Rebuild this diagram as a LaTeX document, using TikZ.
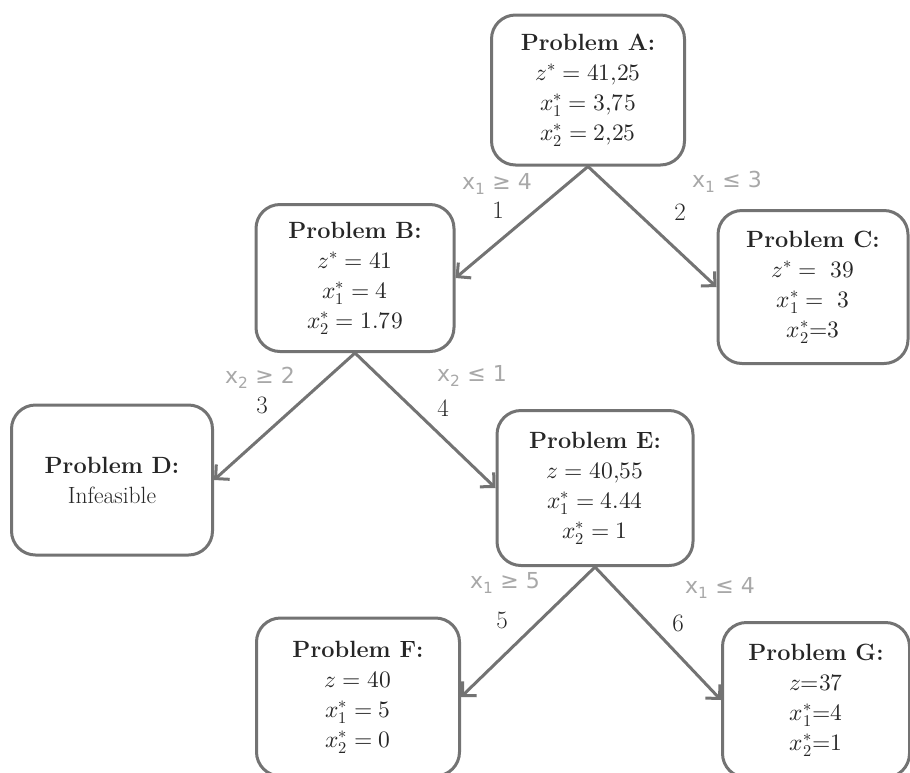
\documentclass[tikz,border=0pt]{standalone}
\usepackage{fontspec}
\usepackage{unicode-math}
\setmathfont{Latin Modern Math}
\newfontfamily\handfont{DejaVu Sans}
\usetikzlibrary{arrows.meta}
\definecolor{edgegray}{HTML}{737373}
\definecolor{handgray}{HTML}{A8A8A8}
\definecolor{txt}{HTML}{262626}
\tikzset{
  prob/.style={draw=edgegray, line width=3pt, rounded corners=24pt, fill=white,
    align=center, text=txt, inner sep=0pt, font=\fontsize{23.5}{30}\selectfont},
  branch/.style={draw=edgegray, line width=3pt,
    -{Straight Barb[length=10pt,width=20pt,line width=3pt]}},
  num/.style={text=txt, font=\fontsize{25}{28}\selectfont},
  hand/.style={text=handgray, font=\handfont\fontsize{22}{26}\selectfont}
}
\begin{document}
\begin{tikzpicture}[x=1pt,y=-1pt]
\useasboundingbox (0,0) rectangle (910,772);
\clip (0,0) rectangle (910,772);
\node[prob, minimum width=193pt, minimum height=150pt] (A) at (588,90)
  {\textbf{Problem A:}\\ $z^* = 41{,}25$\\ $x_1^* = 3{,}75$\\ $x_2^* = 2{,}25$};
\node[prob, minimum width=198pt, minimum height=147pt] (B) at (355,278)
  {\textbf{Problem B:}\\ $z^* = 41$\\ $x_1^* = 4$\\ $x_2^* = 1.79$};
\node[prob, minimum width=190pt, minimum height=153pt] (C) at (813,287)
  {\textbf{Problem C:}\\ $z^* = \ 39$\\ $x_1^* = \ 3$\\ $x_2^* {=} 3$};
\node[prob, minimum width=201pt, minimum height=150pt] (D) at (112,480)
  {\textbf{Problem D:}\\ Infeasible};
\node[prob, minimum width=196pt, minimum height=155pt] (E) at (595,488)
  {\textbf{Problem E:}\\ $z = 40{,}55$\\ $x_1^* = 4.44$\\ $x_2^* = 1$};
\node[prob, minimum width=203pt, minimum height=158pt] (F) at (358,697)
  {\textbf{Problem F:}\\ $z = 40$\\ $x_1^* = 5$\\ $x_2^* = 0$};
\node[prob, minimum width=187pt, minimum height=155pt] (G) at (816,700)
  {\textbf{Problem G:}\\ $z {=} 37$\\ $x_1^* {=} 4$\\ $x_2^* {=} 1$};

\draw[branch] (A.south) -- (B.east);
\draw[branch] (A.south) -- (C.west);
\draw[branch] (B.south) -- (D.east);
\draw[branch] (B.south) -- (E.west);
\draw[branch] (E.south) -- (F.east);
\draw[branch] (E.south) -- (G.west);

\node[num] (n1) at (498,210) {1};
\node[num] (n2) at (680,212) {2};
\node[num] (n3) at (262,405) {3};
\node[num] (n4) at (443,408) {4};
\node[num] (n5) at (502,620) {5};
\node[num] (n6) at (678,623) {6};

\node[hand] (h1) at (497,184) {x\textsubscript{1} ≥ 4};
\node[hand] (h2) at (727,182) {x\textsubscript{1} ≤ 3};
\node[hand] (h3) at (260,378) {x\textsubscript{2} ≥ 2};
\node[hand] (h4) at (472,376) {x\textsubscript{2} ≤ 1};
\node[hand] (h5) at (505,583) {x\textsubscript{1} ≥ 5};
\node[hand] (h6) at (720,588) {x\textsubscript{1} ≤ 4};
\end{tikzpicture}
\end{document}
